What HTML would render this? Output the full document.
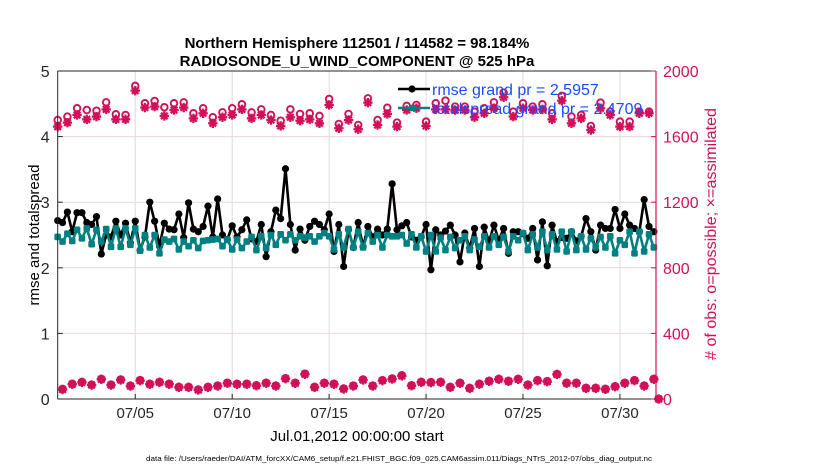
<!DOCTYPE html>
<html><head><meta charset="utf-8">
<style>
html,body{margin:0;padding:0;background:#fff;}
svg{display:block;font-family:"Liberation Sans",Arial,sans-serif;}
</style></head>
<body>
<svg id="chart" width="830" height="470" viewBox="0 0 830 470" xmlns="http://www.w3.org/2000/svg">
  <rect x="0" y="0" width="830" height="470" fill="#fff"/>
  <g id="grid"></g>
  <g id="marks"></g>
  <g id="axes"></g>
  <text x="357" y="48" text-anchor="middle" font-size="15" font-weight="bold">Northern Hemisphere 112501 / 114582 = 98.184%</text>
  <text x="357" y="66" text-anchor="middle" font-size="15" font-weight="bold">RADIOSONDE_U_WIND_COMPONENT @ 525 hPa</text>
  <text transform="translate(39,235) rotate(-90)" text-anchor="middle" font-size="15">rmse and totalspread</text>
  <text transform="translate(716,234) rotate(-90)" text-anchor="middle" font-size="16" textLength="252" lengthAdjust="spacingAndGlyphs" fill="#d1105a">#  of obs: o=possible; ×=assimilated</text>
  <text x="357" y="441" text-anchor="middle" font-size="15">Jul.01,2012 00:00:00 start</text>
  <text x="146" y="461" font-size="7.5" textLength="506" lengthAdjust="spacingAndGlyphs">data file: /Users/raeder/DAI/ATM_forcXX/CAM6_setup/f.e21.FHIST_BGC.f09_025.CAM6assim.011/Diags_NTrS_2012-07/obs_diag_output.nc</text>
  <g id="legend"></g>
</svg>
<script>
// ---- data ----
const xTickDays = [4, 9, 14, 19, 24, 29];
const xTickLabels = ["07/05", "07/10", "07/15", "07/20", "07/25", "07/30"];
const leftTicks = [0, 1, 2, 3, 4, 5];
const rightTicks = [0, 400, 800, 1200, 1600, 2000];
const rmse = [2.72,2.69,2.85,2.55,2.84,2.84,2.69,2.66,2.78,2.21,2.50,2.47,2.71,2.50,2.68,2.38,2.71,2.27,2.47,3.00,2.71,2.33,2.68,2.59,2.58,2.82,2.46,2.99,2.59,2.55,2.63,2.94,2.47,3.05,2.50,2.43,2.64,2.47,2.58,2.73,2.44,2.40,
2.66,2.17,2.55,2.88,2.75,3.51,2.66,2.27,2.59,2.42,2.63,2.71,2.66,2.58,2.82,2.25,2.66,2.02,2.58,2.31,2.69,2.32,2.63,2.47,2.59,2.50,2.59,3.28,2.58,2.64,2.69,2.47,2.42,2.47,2.66,1.97,2.58,2.50,2.56,
2.65,2.50,2.09,2.53,2.30,2.60,2.02,2.62,2.40,2.65,2.42,2.60,2.22,2.55,2.55,2.52,2.45,2.60,2.12,2.70,2.03,2.65,2.40,2.46,2.45,2.55,2.41,2.48,2.75,2.55,2.27,2.65,2.60,2.60,2.89,2.60,2.82,2.65,2.60,2.55,3.04,2.63,2.55];
const spread = [2.47,2.40,2.52,2.41,2.58,2.45,2.60,2.36,2.58,2.40,2.59,2.32,2.60,2.32,2.60,2.35,2.60,2.26,2.50,2.31,2.50,2.22,2.43,2.40,2.44,2.28,2.40,2.33,2.42,2.30,2.41,2.42,2.43,2.44,2.33,2.43,2.28,2.43,2.30,2.40,2.47,2.27,
2.48,2.30,2.50,2.35,2.51,2.42,2.51,2.42,2.48,2.46,2.48,2.40,2.48,2.53,2.48,2.28,2.51,2.31,2.59,2.31,2.55,2.31,2.53,2.40,2.50,2.31,2.50,2.48,2.48,2.50,2.37,2.51,2.31,2.48,2.25,2.50,2.25,2.46,2.27,
2.47,2.30,2.42,2.48,2.27,2.43,2.32,2.48,2.31,2.48,2.35,2.47,2.25,2.48,2.42,2.53,2.27,2.51,2.31,2.55,2.27,2.51,2.28,2.55,2.25,2.55,2.27,2.48,2.28,2.45,2.31,2.47,2.31,2.48,2.22,2.42,2.35,2.55,2.22,2.55,2.25,2.51,2.31];
// obs counts at 00/12Z (even steps) and 06/18Z (odd steps)
const possibleSynoptic = [1701,1722,1773,1762,1758,1809,1736,1732,1909,1803,1817,1779,1803,1809,1742,1773,1718,1748,1773,1797,1748,1766,1732,1697,1766,1738,1742,1726,1829,1677,1738,1671,
1833,1701,1776,1685,1787,1793,1691,1803,1819,1783,1783,1752,1773,1809,1868,1752,1803,1783,1797,1742,1848,1722,1732,1665,1807,1752,1691,1691,1752,1752,0];
const assimSynoptic = [1661,1685,1732,1705,1722,1766,1705,1705,1880,1777,1783,1726,1762,1777,1711,1742,1681,1718,1732,1766,1711,1732,1701,1665,1718,1697,1705,1681,1793,1651,1701,1645,
1807,1671,1738,1661,1762,1773,1665,1766,1766,1762,1762,1718,1742,1773,1840,1722,1773,1762,1766,1705,1819,1681,1711,1640,1773,1732,1661,1661,1742,1742,0];
const possibleOff = [61,92,104,87,122,87,118,81,114,92,104,92,73,73,57,73,81,98,92,92,83,98,81,126,98,154,73,98,92,63,81,118,81,114,124,144,83,104,102,104,73,98,67,92,110,122,110,122,87,114,108,152,98,98,67,67,61,77,98,114,81,122];
const assimOff = [58,90,101,85,120,85,116,79,112,90,102,90,71,71,55,71,79,96,90,90,81,96,79,124,96,151,71,96,90,61,79,116,79,112,122,141,81,102,100,102,71,96,65,90,108,120,108,120,85,112,106,150,96,96,65,65,59,75,96,112,79,120];
const legendLabels = ["rmse grand pr = 2.5957", "totalspread grand pr = 2.4709"];

// ---- scales ----
const PL = 57.7, PR = 656, PT = 71, PB = 399;
const XMIN = 0, XMAX = 30.86, STEP = 0.25;
const xS = d => PL + (d - XMIN) / (XMAX - XMIN) * (PR - PL);
const yL = v => PB - v / 5 * (PB - PT);
const yR = v => PB - v / 2000 * (PB - PT);
const NS = "http://www.w3.org/2000/svg";
function mk(tag, attrs, parent) {
  const e = document.createElementNS(NS, tag);
  for (const k in attrs) e.setAttribute(k, attrs[k]);
  parent.appendChild(e);
  return e;
}
const grid = document.getElementById('grid');
const marks = document.getElementById('marks');
const axes = document.getElementById('axes');
const legend = document.getElementById('legend');
const PINK = "#d1105a", TEAL = "#008080";

// grid
xTickDays.forEach((d, i) => {
  const l = mk('line', {x1: xS(d), x2: xS(d), y1: PT, y2: PB, stroke: "#dcdcdc", "stroke-width": 1}, grid);
  
  
});
leftTicks.forEach(v => {
  const l = mk('line', {x1: PL, x2: PR, y1: yL(v), y2: yL(v), stroke: "#ecd4dc", "stroke-width": 1}, grid);
  
  
});

// obs markers
function drawObs(arr, offset, kind, name) {
  arr.forEach((v, k) => {
    const d = (offset + 2 * k) * STEP;
    const x = xS(d), y = yR(v);
    let g;
    if (kind === 'o') {
      g = mk('circle', {cx: x, cy: y, r: 3.3, fill: "#fff", stroke: PINK, "stroke-width": 1.9}, marks);
    } else {
      g = mk('g', {stroke: PINK, "stroke-width": 2.3}, marks);
      const s = 4.7;
      mk('line', {x1: x - s, x2: x + s, y1: y, y2: y}, g);
      mk('line', {x1: x, x2: x, y1: y - s, y2: y + s}, g);
      mk('line', {x1: x - 3.3, x2: x + 3.3, y1: y - 3.3, y2: y + 3.3}, g);
      mk('line', {x1: x - 3.3, x2: x + 3.3, y1: y + 3.3, y2: y - 3.3}, g);
    }
    
    
  });
}
drawObs(possibleSynoptic, 0, 'o', 'possible-obs-marker');
drawObs(possibleOff, 1, 'o', 'possible-obs-marker');
drawObs(assimSynoptic, 0, '*', 'assimilated-obs-marker');
drawObs(assimOff, 1, '*', 'assimilated-obs-marker');

// series lines
function drawSeries(arr, color, name, square) {
  const pts = arr.map((v, i) => xS(i * STEP).toFixed(2) + "," + yL(v).toFixed(2)).join(" ");
  const pl = mk('polyline', {points: pts, fill: "none", stroke: color, "stroke-width": 2.6, "stroke-linejoin": "round"}, marks);
  
  
  arr.forEach((v, i) => {
    let m;
    if (square) m = mk('rect', {x: xS(i * STEP) - 3.3, y: yL(v) - 3.3, width: 6.6, height: 6.6, rx: 1.5, fill: color}, marks);
    else m = mk('circle', {cx: xS(i * STEP), cy: yL(v), r: 3.6, fill: color}, marks);
    
    
  });
}
drawSeries(rmse, "#000", "rmse", false);
drawSeries(spread, TEAL, "totalspread", true);

// axes
let a = mk('line', {x1: PL, x2: PL, y1: PT, y2: PB, stroke: "#262626", "stroke-width": 1}, axes);
 
a = mk('line', {x1: PL, x2: PR, y1: PB, y2: PB, stroke: "#262626", "stroke-width": 1}, axes);
 
a = mk('line', {x1: PL, x2: PR, y1: PT, y2: PT, stroke: "#262626", "stroke-width": 1}, axes);
 
a = mk('line', {x1: PR, x2: PR, y1: PT, y2: PB, stroke: PINK, "stroke-width": 1.2}, axes);
 

leftTicks.forEach(v => {
  const t = mk('line', {x1: PL, x2: PL + 5, y1: yL(v), y2: yL(v), stroke: "#262626"}, axes);
   
  const tx = mk('text', {x: PL - 8, y: yL(v) + 6, "text-anchor": "end", "font-size": 16, fill: "#262626"}, axes);
  tx.textContent = v;
   
});
rightTicks.forEach(v => {
  const t = mk('line', {x1: PR - 5, x2: PR, y1: yR(v), y2: yR(v), stroke: PINK}, axes);
   
  const tx = mk('text', {x: PR + 7, y: yR(v) + 6, "font-size": 16, fill: PINK}, axes);
  tx.textContent = v;
   
});
xTickDays.forEach((d, i) => {
  const t = mk('line', {x1: xS(d), x2: xS(d), y1: PB - 5, y2: PB, stroke: "#262626"}, axes);
  
  
  const tx = mk('text', {x: xS(d), y: PB + 19, "text-anchor": "middle", "font-size": 15, fill: "#262626"}, axes);
  tx.textContent = xTickLabels[i];
   
});

// legend
[["#000", false], [TEAL, true]].forEach((c, i) => {
  const y = 89 + i * 19;
  const ln = mk('line', {x1: 398, x2: 430, y1: y, y2: y, stroke: c[0], "stroke-width": 2.6}, legend);
   
  let m;
  if (c[1]) m = mk('rect', {x: 409, y: y - 3.3, width: 6.6, height: 6.6, rx: 1.5, fill: c[0]}, legend);
  else m = mk('circle', {cx: 412, cy: y, r: 3.6, fill: c[0]}, legend);
   
  const tx = mk('text', {x: 432, y: y + 6, "font-size": 16, fill: "#1a4cff"}, legend);
  tx.textContent = legendLabels[i];
   
});
</script>
</body></html>
